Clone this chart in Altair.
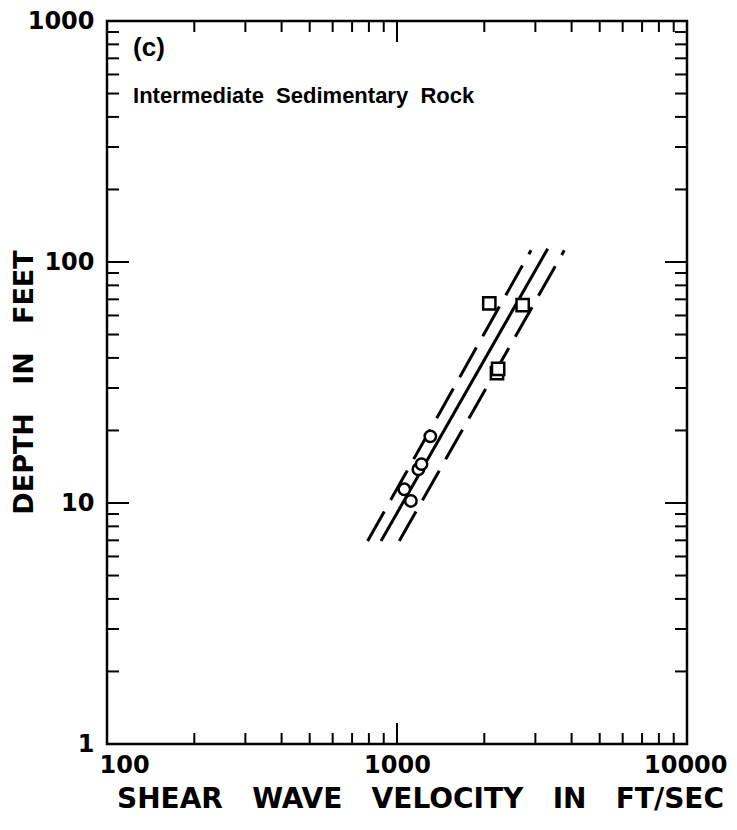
import altair as alt
import pandas as pd

# ---- data ----
circle_vel = [1303, 1185, 1215, 1060, 1117]
circle_depth = [18.9, 13.8, 14.5, 11.4, 10.2]
square_vel = [2081, 2712, 2212, 2232]
square_depth = [67.3, 66.2, 34.6, 36.0]

line_names = ["lower", "lower", "mean", "mean", "upper", "upper"]
line_vel = [792, 2898, 881, 3310, 1018, 3775]
line_depth = [6.95, 111.8, 6.95, 113.6, 6.95, 111.8]

x_minor = [200, 300, 400, 500, 600, 700, 800, 900,
           2000, 3000, 4000, 5000, 6000, 7000, 8000, 9000]
x_major = [1000]
y_minor = [2, 3, 4, 5, 6, 7, 8, 9, 20, 30, 40, 50, 60, 70, 80, 90,
           200, 300, 400, 500, 600, 700, 800, 900]
y_major = [10, 100]
x_labels = [100, 1000, 10000]
y_labels = [1, 10, 100, 1000]

notes = ["(c)", "Intermediate\u00a0\u00a0Sedimentary\u00a0\u00a0Rock"]
note_x = [123, 123]
note_y = [770, 490]
note_size = [26, 22]

FONT = "DejaVu Sans"
NOTE_FONT = "Liberation Sans"
W, H = 580, 723
SP = "\u00a0\u00a0\u00a0"

xs = alt.Scale(type="log", domain=[100, 10000], nice=False)
ys = alt.Scale(type="log", domain=[1, 1000], nice=False)

XAXIS = alt.Axis(
    values=x_labels, format="d", ticks=False, domain=False, grid=False,
    labelFont=FONT, labelFontSize=24, labelFontWeight="bold", labelColor="black",
    labelPadding=9, labelFlush=False,
    labelAlign={"expr": "datum.value == 100 ? 'left' : datum.value == 10000 ? 'right' : 'center'"},
    labelOffset={"expr": "datum.value == 100 ? -8 : datum.value == 10000 ? 40 : 0"},
    title="SHEAR" + SP + "WAVE" + SP + "VELOCITY" + SP + "IN" + SP + "FT/SEC",
    titleFont=FONT, titleFontSize=28, titleFontWeight="bold", titleColor="black",
    titlePadding=8, titleX=313, titleAnchor="middle", titleAlign="center")
YAXIS = alt.Axis(
    values=y_labels, format="d", ticks=False, domain=False, grid=False,
    labelFont=FONT, labelFontSize=24, labelFontWeight="bold", labelColor="black",
    labelPadding=13, labelFlush=False,
    title="DEPTH" + SP + "IN" + SP + "FEET",
    titleFont=FONT, titleFontSize=27, titleFontWeight="bold", titleColor="black",
    titleX=-83, titleY=361, titleAngle=270, titleBaseline="middle")


def X(f):
    return alt.X(f, scale=xs, axis=XAXIS)


def Y(f):
    return alt.Y(f, scale=ys, axis=YAXIS)


pts = pd.DataFrame({
    "v": circle_vel + square_vel,
    "d": circle_depth + square_depth,
    "kind": ["circle"] * len(circle_vel) + ["square"] * len(square_vel),
})
lines = pd.DataFrame({"name": line_names, "v": line_vel, "d": line_depth})

dashed = alt.Chart(lines[lines.name != "mean"]).mark_line(
    color="black", strokeWidth=3, strokeDash=[34, 13]).encode(
    x=X("v:Q"), y=Y("d:Q"), detail="name:N")
solid = alt.Chart(lines[lines.name == "mean"]).mark_line(
    color="black", strokeWidth=3).encode(x=X("v:Q"), y=Y("d:Q"))

circles = alt.Chart(pts[pts.kind == "circle"]).mark_point(
    shape="circle", size=130, filled=True, fill="white", stroke="black",
    strokeWidth=2.5, opacity=1).encode(x=X("v:Q"), y=Y("d:Q"))
squares = alt.Chart(pts[pts.kind == "square"]).mark_point(
    shape="square", size=150, filled=True, fill="white", stroke="black",
    strokeWidth=2.5, opacity=1).encode(x=X("v:Q"), y=Y("d:Q"))


def xticks(vals, length):
    df = pd.DataFrame({"v": vals})
    bot = alt.Chart(df).mark_rule(color="black", strokeWidth=2).encode(
        x=X("v:Q"), y=alt.value(H), y2=alt.value(H - length))
    top = alt.Chart(df).mark_rule(color="black", strokeWidth=2).encode(
        x=X("v:Q"), y=alt.value(0), y2=alt.value(length))
    return [bot, top]


def yticks(vals, length):
    df = pd.DataFrame({"d": vals})
    left = alt.Chart(df).mark_rule(color="black", strokeWidth=2).encode(
        y=Y("d:Q"), x=alt.value(0), x2=alt.value(length))
    right = alt.Chart(df).mark_rule(color="black", strokeWidth=2).encode(
        y=Y("d:Q"), x=alt.value(W), x2=alt.value(W - length))
    return [left, right]


notes_df = pd.DataFrame({"txt": notes, "v": note_x, "d": note_y, "s": note_size})
text = alt.Chart(notes_df).mark_text(
    align="left", baseline="middle", font=NOTE_FONT,
    fontWeight="bold", color="black").encode(
    x=X("v:Q"), y=Y("d:Q"), text="txt:N",
    size=alt.Size("s:Q", scale=None, legend=None))

layers = [dashed, solid, circles, squares, text]
layers += xticks(x_minor, 11) + xticks(x_major, 21)
layers += yticks(y_minor, 12) + yticks(y_major, 22)

chart = alt.layer(*layers).properties(
    width=W, height=H,
    autosize=alt.AutoSizeParams(type="none"),
    padding={"left": 99, "top": 13, "right": 42, "bottom": 74},
    background="white",
).configure_view(stroke="black", strokeWidth=2.5)

chart.save("out.html", embed_options={"renderer": "svg", "actions": False})
